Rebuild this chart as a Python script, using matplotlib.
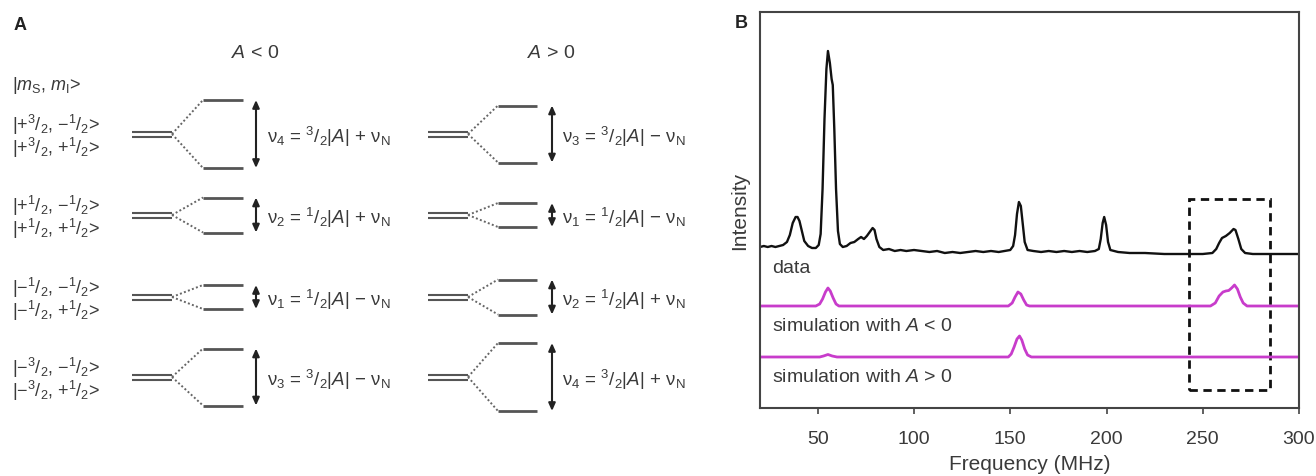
"""
Hyperfine level scheme (A) and measured / simulated spectra (B).
"""

import numpy as np
import matplotlib.pyplot as plt
from matplotlib.patches import Rectangle

plt.rcParams['font.family'] = ['Liberation Sans', 'DejaVu Sans']
plt.rcParams['mathtext.fontset'] = 'custom'
plt.rcParams['mathtext.rm'] = 'Liberation Sans'
plt.rcParams['mathtext.it'] = 'Liberation Sans:italic'
plt.rcParams['mathtext.bf'] = 'Liberation Sans:bold'

# ---------------- data ----------------
# state labels, one pair per m_S manifold
state_labels = [
    (r"|+$^3/_2$, −$^1/_2$>", r"|+$^3/_2$, +$^1/_2$>"),
    (r"|+$^1/_2$, −$^1/_2$>", r"|+$^1/_2$, +$^1/_2$>"),
    (r"|−$^1/_2$, −$^1/_2$>", r"|−$^1/_2$, +$^1/_2$>"),
    (r"|−$^3/_2$, −$^1/_2$>", r"|−$^3/_2$, +$^1/_2$>"),
]
# transition index in each manifold for both signs of A
trans_neg = [4, 2, 1, 3]
trans_pos = [3, 1, 2, 4]
# drawn splitting of each transition (arbitrary units)
nu_split = {1: 24, 2: 35, 3: 57, 4: 68}

# measured spectrum
freq_data = [20, 22, 24, 26, 28, 30, 32, 34, 35.5, 37, 38.5, 39.5, 40.5, 41.5, 43, 45, 47, 49,
             50.5, 51.5, 52.5, 53.5, 54.5, 55.3, 56.3, 57.2, 57.8, 58.6, 59.5, 60.5, 61.5, 63, 65,
             67, 69, 71, 72.5, 74, 75.5, 77, 78.5, 79.5, 80.5, 82, 84, 87, 90, 93, 96, 100, 104,
             108, 112, 116, 120, 124, 128, 132, 136, 140, 144, 147, 150, 151.5, 152.5, 153.5,
             154.5, 155.5, 156.5, 157.5, 159, 162, 166, 170, 174, 178, 182, 186, 190, 194, 196,
             197, 198, 198.8, 199.8, 200.8, 202, 206, 212, 220, 230, 240, 250, 255, 257, 258.5,
             260, 262, 264, 266, 267, 268.5, 270, 272, 276, 285, 300]
int_data = [161, 162, 161, 162, 161, 162, 163, 166, 173, 185, 191, 191, 187, 179, 167, 162, 160, 160,
            163, 174, 219, 289, 339, 357, 345, 329, 323, 279, 219, 177, 164, 161, 162,
            165, 166, 169, 171, 169, 172, 176, 180, 178, 169, 161, 158, 159, 157, 158, 157, 158, 157,
            156, 157, 155, 156, 155, 156, 157, 156, 157, 156, 157, 158, 162, 173, 194,
            206, 202, 184, 166, 158, 157, 156, 157, 156, 157, 156, 157, 156, 157, 159,
            169, 185, 191, 183, 166, 158, 156, 155, 155, 154, 154, 154, 155, 159, 165,
            170, 172, 175, 179, 178, 169, 159, 155, 154, 154, 154]

# simulation, A < 0 (height above its own baseline)
freq_neg = [20, 49, 51, 52.5, 54, 55.3, 56.5, 58, 59.5, 61, 149, 151, 152.5, 154, 155.5, 157,
            158.5, 160, 254, 256.5, 258.5, 260.5, 262, 263.5, 265, 266.5, 268, 269.5, 271, 273, 300]
int_neg = [0, 0, 2, 7, 14, 18, 15, 8, 2, 0, 0, 3, 9, 14, 12, 6,
           1, 0, 0, 3, 10, 14, 15, 15.5, 18, 21, 17, 9, 3, 0, 0]

# simulation, A > 0
freq_pos = [20, 51, 53, 55.3, 57.5, 60, 149, 150.5, 152, 153.5, 154.8, 156, 157.5, 159, 161, 300]
int_pos = [0, 0, 1, 2.5, 1, 0, 0, 3, 10, 18, 21, 17, 8, 2, 0, 0]

# ---------------- figure ----------------
fig = plt.figure(figsize=(13.16, 4.77), dpi=100)
text_c = '#3a3a3a'
line_c = '#555555'
magenta = '#c83ccb'

# panel A drawn in pixel coordinates of the whole figure
axA = fig.add_axes([0, 0, 1, 1])
axA.set_xlim(0, 1316)
axA.set_ylim(477, 0)
axA.axis('off')

axA.text(14, 25, "A", fontsize=13, fontweight='bold', color='#222222', va='center')
axA.text(735, 23, "B", fontsize=13, fontweight='bold', color='#222222', va='center')
axA.text(12, 85, r"|$m_\mathrm{S}$, $m_\mathrm{I}$>", fontsize=13, color=text_c, va='center')

row_y = [135, 216, 298, 378]
# x layout of each column: double line start, split point, level start, level end, arrow, text
columns = [
    (132, 172, 203, 243, 256, 267, trans_neg, r"$A$ < 0", 255),
    (428, 468, 498, 537, 552, 562, trans_pos, r"$A$ > 0", 551),
]


def nu_label(n):
    coeff = "3" if n >= 3 else "1"
    sign = "+" if n % 2 == 0 else "−"
    return rf"ν$_{n}$ = $^{coeff}/_2$|$A$| {sign} ν$_\mathrm{{N}}$"


for x0, xs, xl0, xl1, xa, xt, trans, head, xh in columns:
    axA.text(xh, 53, head, fontsize=14, color=text_c, ha='center', va='center')
    for yc, n in zip(row_y, trans):
        half = nu_split[n] / 2
        for dy in (-2.5, 2.5):
            axA.plot([x0, xs], [yc + dy, yc + dy], color=line_c, lw=1.5, solid_capstyle='butt')
        for sgn in (-1, 1):
            axA.plot([xs, xl0], [yc, yc + sgn * half], color='#666666', lw=1.4, ls=(0, (1, 1.2)))
            axA.plot([xl0, xl1], [yc + sgn * half] * 2, color=line_c, lw=2, solid_capstyle='butt')
        axA.annotate("", xy=(xa, yc - half), xytext=(xa, yc + half),
                     arrowprops=dict(arrowstyle="<|-|>,head_length=0.45,head_width=0.2",
                                     color='#222222', lw=1.5, shrinkA=0, shrinkB=0,
                                     mutation_scale=10))
        axA.text(xt, yc + 2, nu_label(n), fontsize=13.5, color=text_c, va='center')

for yc, (top, bottom) in zip(row_y, state_labels):
    axA.text(12, yc - 10, top, fontsize=13, color=text_c, va='center')
    axA.text(12, yc + 13, bottom, fontsize=13, color=text_c, va='center')

# panel B
axB = fig.add_axes([760 / 1316, 1 - 409 / 477, 539 / 1316, 396 / 477])
axB.plot(freq_data, int_data, color='#111111', lw=1.7)
axB.plot(freq_neg, np.array(int_neg) + 102, color=magenta, lw=2)
axB.plot(freq_pos, np.array(int_pos) + 51, color=magenta, lw=2)
axB.add_patch(Rectangle((243, 18), 42, 191, fill=False, edgecolor='#111111', lw=2,
                        ls=(0, (3, 2))))

axB.text(26.3, 140, "data", fontsize=14, color=text_c, va='center')
axB.text(26.3, 82, r"simulation with $A$ < 0", fontsize=14, color=text_c, va='center')
axB.text(26.3, 31, r"simulation with $A$ > 0", fontsize=14, color=text_c, va='center')

axB.set_xlim(20, 300)
axB.set_ylim(0, 396)
axB.set_xticks([50, 100, 150, 200, 250, 300])
axB.set_yticks([])
axB.tick_params(axis='x', direction='out', length=4, width=1.2, color='#444444',
                labelsize=14, labelcolor=text_c, pad=12)
for sp in axB.spines.values():
    sp.set_color('#444444')
    sp.set_linewidth(1.5)
axB.set_xlabel("Frequency (MHz)", fontsize=15, color=text_c, labelpad=5)
axB.set_ylabel("Intensity", fontsize=15, color=text_c, labelpad=8)

plt.savefig("out.png", dpi=100)
